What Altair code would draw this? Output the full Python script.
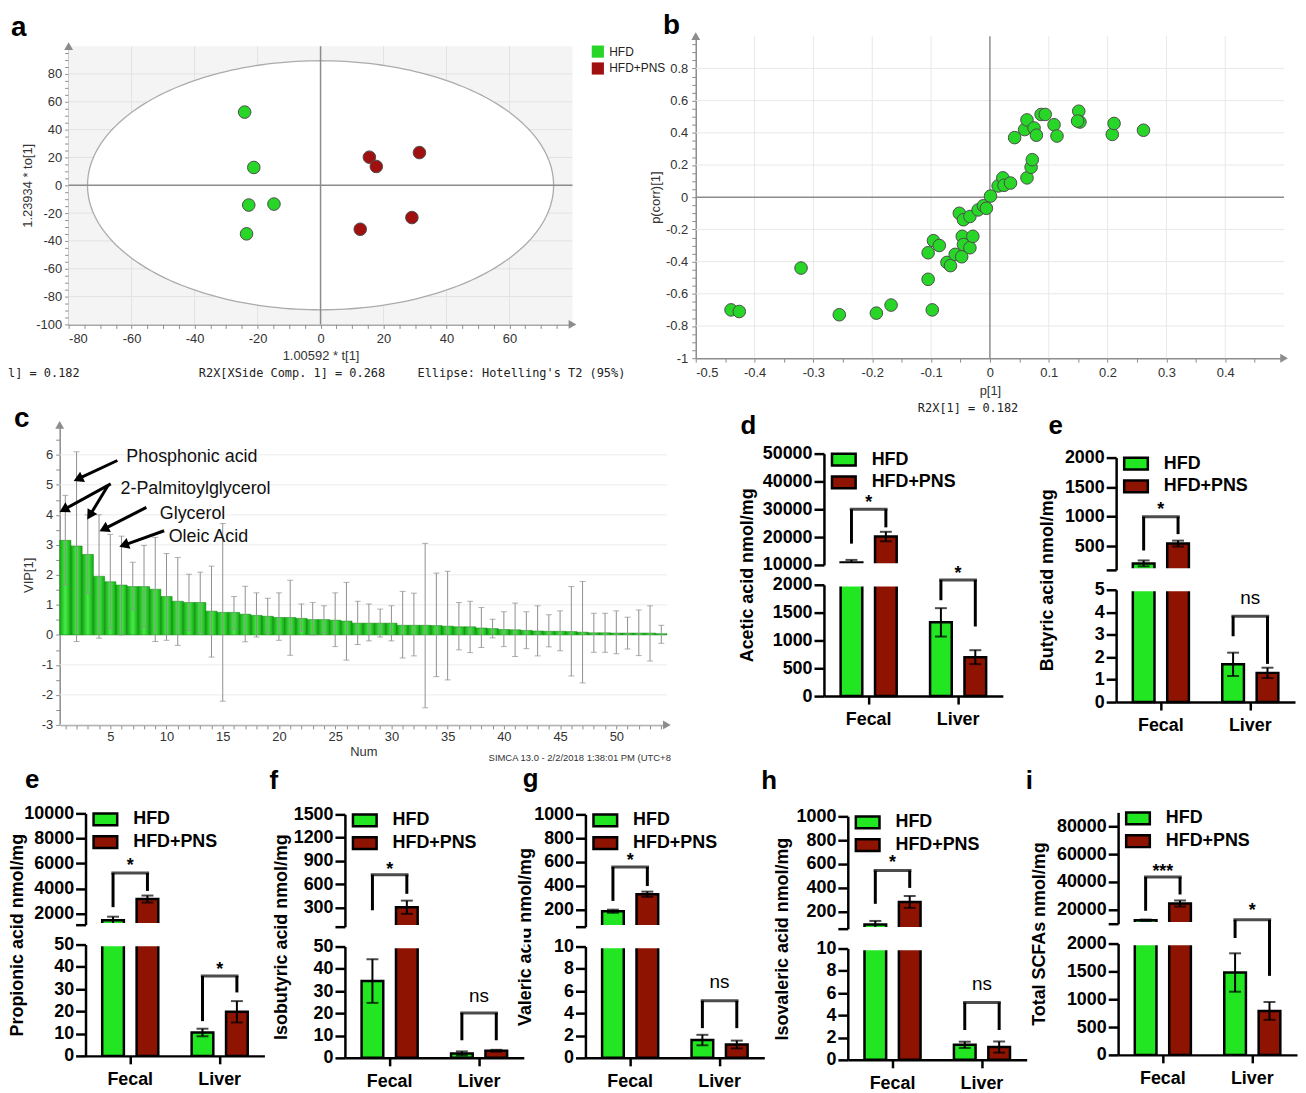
import numpy as np
import pandas as pd
import altair as alt

SANS = "Liberation Sans"
NARROW = "Liberation Sans Narrow, Liberation Sans, Arial, sans-serif"
MONO = "DejaVu Sans Mono"
GP_GREEN = "#22E622"
GP_RED = "#8E1300"
SM_GREEN = "#27D627"
SM_RED = "#A01010"
SM_AXIS = "#8C8C8C"

groups = ["HFD", "HFD+PNS"]
sites = ["Fecal", "Liver"]

# ---------------- panel a : OPLS-DA scores ----------------
a_hfd_t = [-24.1, -21.2, -22.8, -14.8, -23.5]
a_hfd_to = [52.6, 12.8, -14.2, -13.5, -34.9]
a_pns_t = [15.5, 17.7, 31.4, 29.0, 12.6]
a_pns_to = [20.2, 13.5, 23.5, -23.2, -31.6]
a_ellipse_radii = [74.0, 89.5]
a_x_domain = [-80, 80]
a_y_domain = [-100, 100]
a_x_ticks = list(range(-80, 76, 5))
a_y_ticks = list(range(-100, 96, 5))
a_x_grid = list(range(-60, 61, 20))
a_y_grid = list(range(-80, 81, 20))

# ---------------- panel b : S-plot ----------------
b_p = [-0.440, -0.426, -0.321, -0.256, -0.193, -0.168, -0.098, -0.105, -0.105, -0.096,
       -0.086, -0.073, -0.067, -0.059, -0.048, -0.047, -0.045, -0.034, -0.029, -0.052,
       -0.045, -0.034, -0.020, -0.011, -0.006, 0.001, 0.014, 0.022, 0.024, 0.035,
       0.042, 0.059, 0.063, 0.063, 0.070, 0.072, 0.075, 0.079, 0.087, 0.094,
       0.109, 0.114, 0.151, 0.153, 0.149, 0.208, 0.211, 0.261]
b_pcorr = [-0.70, -0.71, -0.44, -0.73, -0.72, -0.67, -0.70, -0.51, -0.345, -0.27,
           -0.30, -0.405, -0.425, -0.355, -0.37, -0.243, -0.294, -0.314, -0.243, -0.10,
           -0.14, -0.12, -0.079, -0.053, -0.069, 0.007, 0.07, 0.12, 0.074, 0.088,
           0.37, 0.42, 0.48, 0.12, 0.186, 0.233, 0.43, 0.385, 0.514, 0.514,
           0.45, 0.38, 0.534, 0.467, 0.473, 0.39, 0.458, 0.416]
b_x_domain = [-0.5, 0.5]
b_y_domain = [-1.0, 1.0]
b_x_ticks = [round(-0.5 + 0.05 * i, 2) for i in range(20)]
b_y_ticks = [round(-1.0 + 0.05 * i, 2) for i in range(40)]
b_x_grid = [-0.4, -0.3, -0.2, -0.1, 0.1, 0.2, 0.3, 0.4]
b_y_grid = [-0.8, -0.6, -0.4, -0.2, 0.2, 0.4, 0.6, 0.8]

# ---------------- panel c : VIP ----------------
vip = [3.15, 2.96, 2.68, 1.95, 1.77, 1.66, 1.61, 1.61, 1.52, 1.28,
       1.12, 1.08, 1.08, 0.79, 0.75, 0.75, 0.69, 0.65, 0.62, 0.58,
       0.58, 0.55, 0.51, 0.51, 0.49, 0.46, 0.39, 0.39, 0.39, 0.39,
       0.32, 0.32, 0.32, 0.31, 0.29, 0.27, 0.27, 0.23, 0.21, 0.18,
       0.17, 0.15, 0.13, 0.12, 0.12, 0.11, 0.09, 0.07, 0.07, 0.06,
       0.06, 0.06, 0.06, 0.04]
vip_hi = [4.65, 6.10, 4.00, 4.00, 3.35, 3.29, 2.42, 2.98, 3.25, 2.71,
          2.58, 2.02, 2.09, 2.29, 3.71, 1.28, 1.62, 1.40, 1.22, 1.40,
          1.82, 1.03, 1.08, 0.97, 1.40, 1.75, 1.12, 1.03, 0.86, 0.97,
          1.45, 1.39, 3.05, 2.06, 2.12, 1.08, 1.12, 0.91, 0.52, 0.77,
          1.06, 0.77, 0.97, 0.67, 0.80, 1.61, 1.78, 0.72, 0.72, 0.80,
          0.59, 0.83, 0.97, 0.32]
vip_lo = [1.67, -0.22, 1.38, -0.11, 0.21, 0.00, 0.84, 0.25, -0.22, -0.18,
          -0.35, 0.15, 0.07, -0.74, -2.21, 0.19, -0.23, -0.07, 0.07, -0.18,
          -0.68, 0.11, 0.00, 0.08, -0.39, -0.84, -0.32, -0.20, -0.07, -0.20,
          -0.77, -0.70, -2.43, -1.39, -1.50, -0.50, -0.59, -0.42, -0.10, -0.39,
          -0.72, -0.46, -0.70, -0.40, -0.53, -1.37, -1.60, -0.58, -0.58, -0.63,
          -0.47, -0.69, -0.87, -0.28]
c_x_domain = [0.5, 54.5]
c_y_domain = [-3, 7]
c_x_ticks = list(range(1, 55))
c_y_ticks = [-3 + 0.5 * i for i in range(20)]
c_y_grid = list(range(-3, 7))
c_names = ["Phosphonic acid", "2-Palmitoylglycerol", "Glycerol", "Oleic Acid"]
c_name_x = [6.43, 5.91, 9.40, 10.19]
c_name_y = [5.92, 4.87, 4.03, 3.25]
c_arrow_tail_x = [5.63, 5.04, 4.84, 8.21, 9.79]
c_arrow_tail_y = [5.81, 5.03, 5.00, 4.25, 3.47]
c_arrow_head_x = [2.27, 1.00, 3.26, 4.56, 6.35]
c_arrow_head_y = [5.22, 4.20, 4.03, 3.55, 3.01]

# ---------------- SCFA panels: [Fecal HFD, Fecal PNS, Liver HFD, Liver PNS] ----------------
acetic_mean = [10900, 20200, 1325, 700]
acetic_err = [900, 1700, 255, 125]
butyric_mean = [210, 545, 1.68, 1.30]
butyric_err = [50, 50, 0.52, 0.23]
propionic_mean = [1450, 3150, 10.5, 19.8]
propionic_err = [290, 280, 1.7, 4.8]
isobutyric_mean = [34.5, 305, 2.0, 3.2]
isobutyric_err = [9.8, 85, 0.9, 0.4]
valeric_mean = [185, 328, 1.6, 1.2]
valeric_err = [13, 22, 0.47, 0.35]
isovaleric_mean = [90, 280, 1.35, 1.15]
isovaleric_err = [30, 50, 0.28, 0.5]
total_mean = [12400, 24500, 1480, 790]
total_err = [600, 2200, 345, 160]

# brackets: segment, site, top, left leg end, right leg end, label, label position
acetic_br = [("top", "Fecal", 30000, 17650, 23500, "*", 33900),
             ("bot", "Liver", 2088, 1723, 1251, "*", 2283)]
butyric_br = [("top", "Fecal", 1000, 428, 705, "*", 1190),
              ("bot", "Liver", 3.82, 2.93, 1.70, "ns", 4.58)]
propionic_br = [("top", "Fecal", 5232, 2500, 3800, "*", 6160),
                ("bot", "Liver", 35.9, 15.6, 28.5, "*", 40.8)]
isobutyric_br = [("top", "Fecal", 724, 266, 478, "*", 852),
                 ("bot", "Liver", 20.2, 7.9, 7.9, "ns", 27.4)]
valeric_br = [("top", "Fecal", 557, 272, 397, "*", 645),
              ("bot", "Liver", 5.13, 2.67, 2.67, "ns", 6.68)]
isovaleric_br = [("top", "Fecal", 544, 264, 398, "*", 650),
                 ("bot", "Liver", 5.15, 2.68, 2.68, "ns", 6.73)]
total_br = [("top", "Fecal", 43500, 19300, 31000, "***", 51000),
            ("bot", "Liver", 2426, 2100, 1420, "*", 2670)]

# ---------------- canvas ----------------
W_VIEW, H_VIEW = 1298, 1077
OFF = 8


def V(p):
    return p - OFF


def left_off(page_x):
    return -V(page_x)


def bottom_off(page_y):
    return V(page_y) - H_VIEW


def label(s, x, y, size, weight="normal", font=SANS, align="left", baseline="alphabetic", color="black"):
    return alt.Chart(pd.DataFrame({"t": [s]})).mark_text(
        align=align, baseline=baseline, font=font, fontSize=size, fontWeight=weight, color=color
    ).encode(x=alt.value(x), y=alt.value(y), text="t:N")


def simca_axis(values, expr, title, **kw):
    d = dict(values=values, labelExpr=expr, title=title, grid=False, domainColor=SM_AXIS,
             domainWidth=1.5, tickColor=SM_AXIS, tickWidth=1, tickSize=4, labelFont=NARROW,
             labelFontSize=13, labelColor="#333333", titleFont=NARROW, titleFontSize=13,
             titleFontWeight="normal", titleColor="#333333", labelOverlap=False)
    d.update(kw)
    return alt.Axis(**d)


def lin(dom, rng):
    return alt.Scale(domain=dom, range=rng, nice=False, zero=False)


def axis_arrows(xd, yd, XF, YF):
    return [
        alt.Chart(pd.DataFrame({"x": [xd[1]], "y": [yd[0]]})).mark_point(
            shape="triangle-right", filled=True, size=80, color=SM_AXIS, opacity=1).encode(x=XF("x"), y=YF("y")),
        alt.Chart(pd.DataFrame({"x": [xd[0]], "y": [yd[1]]})).mark_point(
            shape="triangle-up", filled=True, size=80, color=SM_AXIS, opacity=1).encode(x=XF("x"), y=YF("y")),
    ]


# ---------------- panel a ----------------
A_X, A_Y, A_W, A_H = 69, 43, 507, 280
ax_sc = lin(a_x_domain, [V(A_X), V(A_X + A_W)])
ay_sc = lin(a_y_domain, [V(A_Y + A_H), V(A_Y)])
a_xax = simca_axis(a_x_ticks, "datum.value % 20 == 0 ? '' + datum.value : ''", "1.00592 * t[1]",
                   orient="bottom", offset=bottom_off(A_Y + A_H), labelPadding=4,
                   titleX=V(A_X) + A_W / 2, titleY=31, titleBaseline="middle", titleAlign="center")
a_yax = simca_axis(a_y_ticks, "datum.value % 20 == 0 ? '' + datum.value : ''", "1.23934 * to[1]",
                   orient="left", offset=left_off(A_X), labelPadding=3, titleX=-41,
                   titleY=V(A_Y) + A_H / 2, titleAngle=270, titleBaseline="middle", titleAlign="center")


def AX(f):
    return alt.X(f, type="quantitative", scale=ax_sc, axis=a_xax)


def AY(f):
    return alt.Y(f, type="quantitative", scale=ay_sc, axis=a_yax)


a_df = pd.DataFrame({"t": a_hfd_t + a_pns_t, "to": a_hfd_to + a_pns_to,
                     "group": [groups[0]] * len(a_hfd_t) + [groups[1]] * len(a_pns_t)})
rx, ry = a_ellipse_radii
th = np.linspace(0, 2 * np.pi, 241)
ell_line = pd.DataFrame({"ex": rx * np.cos(th), "ey": ry * np.sin(th), "k": np.arange(len(th))})
xs = rx * np.cos(np.linspace(np.pi, 0, 241))
half = ry * np.sqrt(np.clip(1 - (xs / rx) ** 2, 0, None))
ell_area = pd.DataFrame({"ex": xs, "up": half, "lo": -half})
a_box = pd.DataFrame({"x0": [a_x_domain[0]], "x1": [a_x_domain[1]], "y0": [a_y_domain[0]], "y1": [a_y_domain[1]]})
a_legend = alt.Legend(orient="none", legendX=V(595), legendY=V(42), title=None, symbolType="square",
                      symbolSize=150, symbolStrokeWidth=0, labelFont=NARROW, labelFontSize=12,
                      labelColor="#222222", rowPadding=4, padding=0, labelOffset=5)
a_layer = alt.layer(
    alt.Chart(a_box).mark_rect(color="#f4f4f4").encode(x=AX("x0"), x2="x1", y=AY("y0"), y2="y1"),
    alt.Chart(pd.DataFrame({"g": a_y_grid, "lo": a_x_domain[0], "hi": a_x_domain[1]})).mark_rule(
        color="#e2e2e2", strokeWidth=1).encode(y=AY("g"), x=AX("lo"), x2="hi"),
    alt.Chart(pd.DataFrame({"g": a_x_grid, "lo": a_y_domain[0], "hi": a_y_domain[1]})).mark_rule(
        color="#e2e2e2", strokeWidth=1).encode(x=AX("g"), y=AY("lo"), y2="hi"),
    alt.Chart(ell_area).mark_area(color="white", opacity=1).encode(x=AX("ex"), y=AY("up"), y2="lo"),
    alt.Chart(ell_line).mark_line(color="#ababab", strokeWidth=1.3).encode(x=AX("ex"), y=AY("ey"), order="k:Q"),
    alt.Chart(pd.DataFrame({"z": [0], "lo": [a_y_domain[0]], "hi": [a_y_domain[1]]})).mark_rule(
        color=SM_AXIS, strokeWidth=1.5).encode(x=AX("z"), y=AY("lo"), y2="hi"),
    alt.Chart(pd.DataFrame({"z": [0], "lo": [a_x_domain[0]], "hi": [a_x_domain[1]]})).mark_rule(
        color=SM_AXIS, strokeWidth=1.5).encode(y=AY("z"), x=AX("lo"), x2="hi"),
    alt.Chart(a_df).mark_circle(size=160, opacity=1, stroke="#4d4d4d", strokeWidth=1).encode(
        x=AX("t"), y=AY("to"),
        color=alt.Color("group:N", scale=alt.Scale(domain=groups, range=[SM_GREEN, SM_RED]), legend=a_legend)),
    *axis_arrows(a_x_domain, a_y_domain, AX, AY),
)

# ---------------- panel b ----------------
B_X, B_Y, B_W, B_H = 700, 33, 592, 324
bx_sc = lin(b_x_domain, [V(B_X), V(B_X + B_W)])
by_sc = lin(b_y_domain, [V(B_Y + B_H), V(B_Y)])
b_xax = simca_axis(b_x_ticks,
                   "abs(round(datum.value*100)) % 10 == 0 ? toString(round(datum.value*10)/10) : ''",
                   "p[1]", orient="bottom", offset=bottom_off(B_Y + B_H), labelPadding=4,
                   titleX=V(B_X) + B_W / 2, titleY=33, titleBaseline="middle", titleAlign="center")
b_yax = simca_axis(b_y_ticks,
                   "abs(round(datum.value*100)) % 20 == 0 ? toString(round(datum.value*10)/10) : ''",
                   "p(corr)[1]", orient="left", offset=left_off(B_X), labelPadding=4, titleX=-40,
                   titleY=V(B_Y) + B_H / 2, titleAngle=270, titleBaseline="middle", titleAlign="center")


def BX(f):
    return alt.X(f, type="quantitative", scale=bx_sc, axis=b_xax)


def BY(f):
    return alt.Y(f, type="quantitative", scale=by_sc, axis=b_yax)


b_df = pd.DataFrame({"p": b_p, "pcorr": b_pcorr})
b_layer = alt.layer(
    alt.Chart(pd.DataFrame({"g": b_x_grid, "lo": b_y_domain[0], "hi": b_y_domain[1]})).mark_rule(
        color="#e8e8e8", strokeWidth=1).encode(x=BX("g"), y=BY("lo"), y2="hi"),
    alt.Chart(pd.DataFrame({"g": b_y_grid, "lo": b_x_domain[0], "hi": b_x_domain[1]})).mark_rule(
        color="#e8e8e8", strokeWidth=1).encode(y=BY("g"), x=BX("lo"), x2="hi"),
    alt.Chart(pd.DataFrame({"z": [0], "lo": [b_y_domain[0]], "hi": [b_y_domain[1]]})).mark_rule(
        color=SM_AXIS, strokeWidth=1.5).encode(x=BX("z"), y=BY("lo"), y2="hi"),
    alt.Chart(pd.DataFrame({"z": [0], "lo": [b_x_domain[0]], "hi": [b_x_domain[1]]})).mark_rule(
        color=SM_AXIS, strokeWidth=1.5).encode(y=BY("z"), x=BX("lo"), x2="hi"),
    alt.Chart(b_df).mark_circle(size=160, opacity=1, color=SM_GREEN, stroke="#4d4d4d", strokeWidth=1).encode(
        x=BX("p"), y=BY("pcorr")),
    *axis_arrows(b_x_domain, b_y_domain, BX, BY),
)

# ---------------- panel c ----------------
C_X, C_Y, C_W, C_H = 60, 424, 611, 302
cx_sc = lin(c_x_domain, [V(C_X), V(C_X + C_W)])
cy_sc = lin(c_y_domain, [V(C_Y + C_H), V(C_Y)])
c_xax = simca_axis(c_x_ticks, "datum.value % 5 == 0 ? '' + datum.value : ''", "Num",
                   orient="bottom", offset=bottom_off(C_Y + C_H), labelPadding=2,
                   titleX=V(C_X) + C_W / 2, titleY=27, titleBaseline="middle", titleAlign="center")
c_yax = simca_axis(c_y_ticks, "datum.value % 1 == 0 ? '' + datum.value : ''", "VIP[1]",
                   orient="left", offset=left_off(C_X), labelPadding=3, titleX=-31,
                   titleY=V(C_Y) + C_H / 2, titleAngle=270, titleBaseline="middle", titleAlign="center")


def CX(f):
    return alt.X(f, type="quantitative", scale=cx_sc, axis=c_xax)


def CY(f):
    return alt.Y(f, type="quantitative", scale=cy_sc, axis=c_yax)


c_df = pd.DataFrame({"num": list(range(1, len(vip) + 1)), "vip": vip, "hi": vip_hi, "lo": vip_lo})
px_x = C_W / (c_x_domain[1] - c_x_domain[0])
px_y = C_H / (c_y_domain[1] - c_y_domain[0])
arr = pd.DataFrame({"tx": c_arrow_tail_x, "ty": c_arrow_tail_y, "hx": c_arrow_head_x, "hy": c_arrow_head_y})
arr["ang"] = (np.degrees(np.arctan2((arr.hx - arr.tx) * px_x, (arr.hy - arr.ty) * px_y)) + 360) % 360
names = pd.DataFrame({"name": c_names, "x": c_name_x, "y": c_name_y})
bar_grad = alt.Gradient(gradient="linear", x1=0, x2=1, y1=0, y2=0,
                        stops=[alt.GradientStop(color="#14A814", offset=0),
                               alt.GradientStop(color="#46EC46", offset=0.5),
                               alt.GradientStop(color="#14A814", offset=1)])
c_layer = alt.layer(
    alt.Chart(pd.DataFrame({"g": c_y_grid, "lo": c_x_domain[0], "hi": c_x_domain[1]})).mark_rule(
        color="#ececec", strokeWidth=1).encode(y=CY("g"), x=CX("lo"), x2="hi"),
    alt.Chart(c_df).transform_calculate(x0="datum.num - 0.5", x1="datum.num + 0.5").mark_rect(
        color=bar_grad, stroke="#0C7F0C", strokeWidth=0.5).encode(x=CX("x0"), x2="x1", y=CY("vip"), y2=alt.datum(0)),
    alt.Chart(c_df).mark_rule(color="#8f8f8f", strokeWidth=1).encode(x=CX("num"), y=CY("lo"), y2="hi"),
    alt.Chart(c_df).transform_fold(["lo", "hi"], as_=["end", "yv"]).mark_tick(
        orient="horizontal", color="#8f8f8f", thickness=1, size=6).encode(x=CX("num"), y=CY("yv")),
    alt.Chart(arr).mark_rule(color="black", strokeWidth=3).encode(x=CX("tx"), y=CY("ty"), x2="hx", y2="hy"),
    alt.Chart(arr).mark_point(shape="triangle", filled=True, size=130, color="black", opacity=1).encode(
        x=CX("hx"), y=CY("hy"), angle=alt.Angle("ang:Q", scale=None)),
    alt.Chart(names).mark_text(align="left", baseline="middle", font=SANS, fontSize=18, color="#111111").encode(
        x=CX("x"), y=CY("y"), text="name:N"),
    *axis_arrows(c_x_domain, c_y_domain, CX, CY),
)

# ---------------- GraphPad-style broken-axis panels ----------------
GP_W = 180
LEG_PATH = "M-1.7,-0.85L1.7,-0.85L1.7,0.85L-1.7,0.85Z"
GP_AXIS = dict(domainColor="black", domainWidth=2.5, tickColor="black", tickWidth=2.5,
               labelFont=SANS, labelFontWeight="bold", labelFontSize=18, labelColor="black",
               grid=False, labelOverlap=False)


def gp_panel(mean, err, top_dom, top_ticks, show_min, bot_dom, bot_ticks, brackets, ylabel,
             title_x, geom):
    ax_x, t_top, t_h, b_top, b_h = geom
    df = pd.DataFrame({"site": [s for s in sites for _ in groups], "group": groups * 2,
                       "mean": mean, "err": err})
    br = pd.DataFrame(brackets, columns=["seg", "site", "top", "left", "right", "lab", "lab_y"])
    legs = pd.concat([br.assign(group=groups[0], y_end=br["left"]),
                      br.assign(group=groups[1], y_end=br["right"])], ignore_index=True)
    csc = alt.Scale(domain=groups, range=[GP_GREEN, GP_RED])
    gap = b_top - (t_top + t_h)

    def seg(name, dom, yr, yaxis, xaxis, legend, extra_after_bars):
        xsc = alt.Scale(domain=sites, range=[V(ax_x), V(ax_x + GP_W)], paddingInner=0, paddingOuter=0)
        xo = alt.XOffset("group:N", scale=alt.Scale(domain=groups, paddingInner=0.37, paddingOuter=0.485))
        ysc = alt.Scale(domain=dom, range=yr, nice=False, zero=False)
        X = alt.X("site:N", scale=xsc, axis=xaxis)

        def Y(f):
            return alt.Y(f, type="quantitative", scale=ysc, axis=yaxis)

        base = alt.Chart(df)
        inside = "datum.mean > %s && datum.mean < %s" % (dom[0], dom[1])
        eb = base.transform_filter(inside).transform_calculate(
            lo="datum.mean - datum.err", hi="datum.mean + datum.err")
        b_legs = legs[legs.seg == name]
        b_br = br[br.seg == name]
        bars = base.transform_filter("datum.mean > %s" % dom[0]).transform_calculate(
            yv="min(datum.mean, %s)" % dom[1]).mark_bar(stroke="black", strokeWidth=2.5).encode(
            x=X, xOffset=xo, y=Y("yv"), y2=alt.datum(dom[0]),
            color=alt.Color("group:N", scale=csc, legend=legend))
        layers = [bars] + extra_after_bars + [
            eb.mark_rule(color="black", strokeWidth=2).encode(x=X, xOffset=xo, y=Y("lo"), y2="hi"),
            eb.transform_fold(["lo", "hi"], as_=["end", "yv"]).mark_tick(
                orient="horizontal", color="black", thickness=2, size=12).encode(
                x=X, xOffset=xo, y=Y("yv")),
            alt.Chart(b_legs).mark_rule(color="black", strokeWidth=3).encode(
                x=X, xOffset=xo, y=Y("y_end"), y2="top"),
            alt.Chart(b_br).mark_tick(orient="horizontal", color="black", thickness=3, size=38).encode(
                x=X, y=Y("top")),
            alt.Chart(b_br).transform_filter("datum.lab != 'ns'").mark_text(
                font=SANS, fontSize=18, fontWeight="bold", baseline="alphabetic", dy=10, color="black").encode(
                x=X, y=Y("lab_y"), text="lab:N"),
            alt.Chart(b_br).transform_filter("datum.lab == 'ns'").mark_text(
                font=SANS, fontSize=19, fontWeight="normal", baseline="alphabetic", dy=5, color="black").encode(
                x=X, y=Y("lab_y"), text="lab:N"),
        ]
        return alt.layer(*layers)

    top_extra = {} if show_min else {"labelExpr": "datum.value <= %s ? '' : datum.label" % top_dom[0]}
    top_axis = alt.Axis(orient="left", offset=left_off(ax_x), values=top_ticks, format="d", tickSize=10,
                        labelPadding=2, title=None, **GP_AXIS, **top_extra)
    bot_axis = alt.Axis(orient="left", offset=left_off(ax_x), values=bot_ticks, format="d", tickSize=10,
                        labelPadding=2, title=ylabel, titleX=title_x, titleY=V(b_top) - gap / 2,
                        titleAngle=270, titleAlign="center", titleBaseline="middle", titleFont=SANS,
                        titleFontWeight="bold", titleFontSize=18, titleColor="black", **GP_AXIS)
    x_axis = alt.Axis(orient="bottom", offset=bottom_off(b_top + b_h), tickSize=8, labelPadding=7,
                      labelAngle=0, title=None, **GP_AXIS)
    legend = alt.Legend(orient="none", legendX=V(ax_x) + 11, legendY=V(t_top) - 3, title=None,
                        symbolType=LEG_PATH, symbolSize=196, symbolStrokeColor="black", symbolStrokeWidth=2.5,
                        labelFont=SANS, labelFontSize=18, labelFontWeight="bold", labelColor="black",
                        labelOffset=19, rowPadding=1, padding=0, symbolOpacity=1, labelLimit=300)
    mask = alt.Chart(pd.DataFrame({"m": [0]})).mark_rect(color="white").encode(
        x=alt.value(V(ax_x) + 6), x2=alt.value(V(ax_x) + GP_W),
        y=alt.value(V(t_top + t_h) - 1.6), y2=alt.value(V(b_top) + 1.6))
    top = seg("top", top_dom, [V(t_top + t_h), V(t_top)], top_axis, None, legend, [])
    bot = seg("bot", bot_dom, [V(b_top + b_h), V(b_top)], bot_axis, x_axis, None, [mask])
    return [top, bot]


# geometry: (axis x, top-seg top, top-seg height, bottom-seg top, bottom-seg height) in page px
d_layers = gp_panel(acetic_mean, acetic_err, [10000, 50000], [10000, 20000, 30000, 40000, 50000], True,
                    [0, 2000], [0, 500, 1000, 1500, 2000], acetic_br, "Acetic acid nmol/mg", -77,
                    (829, 453, 112, 585, 112))
e1_layers = gp_panel(butyric_mean, butyric_err, [100, 2000], [100, 500, 1000, 1500, 2000], False,
                     [0, 5], [0, 1, 2, 3, 4, 5], butyric_br, "Butyric acid nmol/mg", -69,
                     (1123, 457, 113, 590, 113))
e2_layers = gp_panel(propionic_mean, propionic_err, [1100, 10000], [1100, 2000, 4000, 6000, 8000, 10000],
                     False, [0, 50], [0, 10, 20, 30, 40, 50], propionic_br, "Propionic acid nmol/mg", -68,
                     (86, 815, 112, 947, 112))
f_layers = gp_panel(isobutyric_mean, isobutyric_err, [55, 1500], [55, 300, 600, 900, 1200, 1500], False,
                    [0, 50], [0, 10, 20, 30, 40, 50], isobutyric_br, "Isobutyric acid nmol/mg", -64,
                    (347, 816, 113, 949, 112))
g_layers = gp_panel(valeric_mean, valeric_err, [55, 1000], [55, 200, 400, 600, 800, 1000], False,
                    [0, 10], [0, 2, 4, 6, 8, 10], valeric_br, "Valeric acid nmol/mg", -60,
                    (589, 816, 113, 949, 112))
h_layers = gp_panel(isovaleric_mean, isovaleric_err, [55, 1000], [55, 200, 400, 600, 800, 1000], False,
                    [0, 10], [0, 2, 4, 6, 8, 10], isovaleric_br, "Isovaleric acid nmol/mg", -66,
                    (853, 818, 113, 951, 112))
i_layers = gp_panel(total_mean, total_err, [10000, 90000], [10000, 20000, 40000, 60000, 80000], False,
                    [0, 2000], [0, 500, 1000, 1500, 2000], total_br, "Total SCFAs nmol/mg", -79,
                    (1125, 814, 112, 946, 112))

# ---------------- texts: panel letters and SIMCA footers ----------------
texts = [
    label("a", V(11), V(33), 28, "bold"),
    label("b", V(667), V(31), 28, "bold"),
    label("c", V(14), V(426), 28, "bold"),
    label("d", V(745), V(433), 26, "bold"),
    label("e", V(1055), V(433), 26, "bold"),
    label("e", V(25), V(789), 26, "bold"),
    label("f", V(271), V(790), 26, "bold"),
    label("g", V(526), V(788), 26, "bold"),
    label("h", V(766), V(790), 26, "bold"),
    label("i", V(1032), V(790), 26, "bold"),
    label("l] = 0.182", V(8), V(376), 12, font=MONO, color="#222222"),
    label("R2X[XSide Comp. 1] = 0.268", V(200), V(376), 12, font=MONO, color="#222222"),
    label("Ellipse: Hotelling's T2 (95%)", V(420), V(376), 12, font=MONO, color="#222222"),
    label("R2X[1] = 0.182", V(974), V(411), 12, font=MONO, align="center", color="#222222"),
    label("SIMCA 13.0 - 2/2/2018 1:38:01 PM (UTC+8", V(675), V(762), 9.5, align="right", color="#333333"),
]

chart = alt.layer(
    a_layer, b_layer, c_layer,
    *d_layers, *e1_layers, *e2_layers, *f_layers, *g_layers, *h_layers, *i_layers,
    *texts,
).resolve_scale(
    x="independent", y="independent", color="independent", xOffset="independent"
).resolve_axis(x="independent", y="independent").resolve_legend(color="independent").properties(
    width=W_VIEW, height=H_VIEW, padding={"left": 0, "top": 0, "right": 0, "bottom": 0},
    background="white",
    view=alt.ViewBackground(stroke="transparent", strokeOpacity=0, strokeWidth=0),
).configure(
    font=SANS,
    view=alt.ViewConfig(stroke="transparent", strokeOpacity=0, strokeWidth=0),
    style={"cell": {"stroke": "transparent", "strokeOpacity": 0, "strokeWidth": 0}},
)

chart.save("out.html", embed_options={"renderer": "svg", "actions": False})
